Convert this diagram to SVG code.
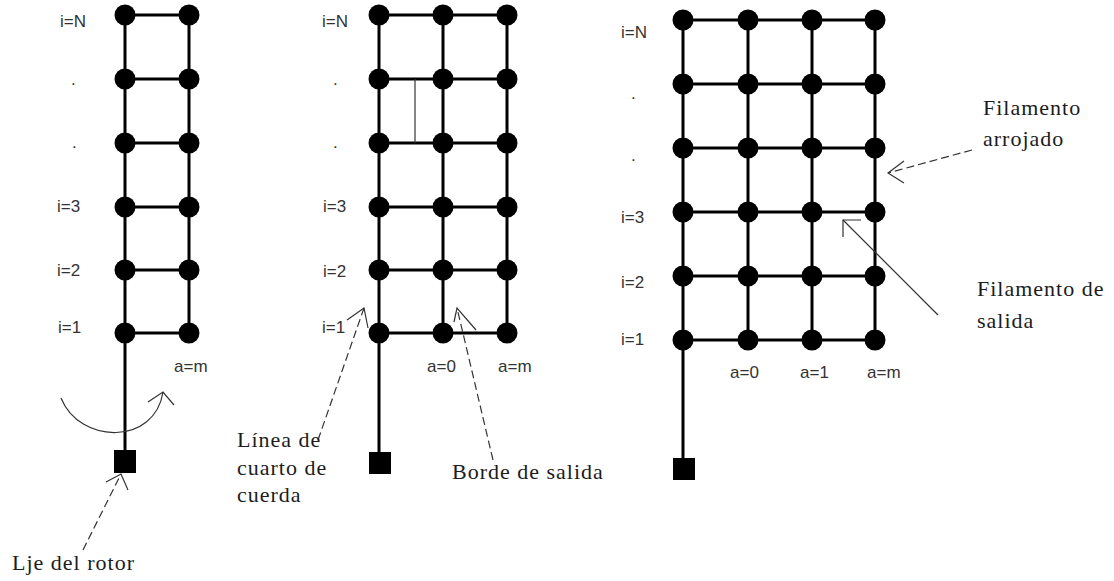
<svg xmlns="http://www.w3.org/2000/svg" xmlns:xlink="http://www.w3.org/1999/xlink" width="1114" height="581" viewBox="0 0 1114 581">
  <style>
    .bar { stroke: #000; stroke-width: 3; fill: none; stroke-linecap: butt; }
    .thin { stroke: #333; stroke-width: 1.2; fill: none; }
    .lead { stroke: #333; stroke-width: 1.2; fill: none; stroke-dasharray: 8 4; }
    .head { stroke: #333; stroke-width: 1.2; fill: none; }
    .dot { fill: #000; }
    .hub { fill: #000; }
    .idx { font-family: "Liberation Sans", Arial, sans-serif; font-size: 17px; fill: #333; }
    .note { font-family: "Liberation Serif", "Times New Roman", serif; font-size: 22px; fill: #1c1c1c; letter-spacing: 1px; }
  </style>
  <defs>
    <circle id="n" r="10.5" class="dot"/>
  </defs>
  <rect width="1114" height="581" fill="#fff"/>

  <!-- lattice bars and leader lines -->
  <g id="connectors">
    <!-- rotor blade ladder (left) -->
    <path class="bar" d="M125,15V452 M189,15V333 M125,15H189 M125,79H189 M125,143H189 M125,207H189 M125,270H189 M125,333H189"/>
    <!-- rotation sense -->
    <path class="thin" d="M61,398 C80,445 155,445 163,392"/>
    <path class="head" d="M148,402 L163,392 L174,405"/>
    <!-- pointer to rotor axis -->
    <path class="lead" d="M83,550 L121,474"/>
    <path class="head" d="M106,482 L121,474 L128,490"/>

    <!-- blade with quarter-chord and trailing edge (middle) -->
    <path class="bar" d="M379,15V452 M443,15V333 M507,15V333 M379,15H507 M379,79H507 M379,143H507 M379,207H507 M379,270H507 M379,333H507"/>
    <path class="thin" d="M415,79V143"/>
    <path class="lead" d="M318,440 L364,308"/>
    <path class="head" d="M347,320 L364,308 L368,328"/>
    <path class="lead" d="M493,460 L457,308"/>
    <path class="head" d="M454,322 L457,308 L476,330"/>

    <!-- wake lattice (right) -->
    <path class="bar" d="M683,20V458 M748,20V340 M812,20V340 M875,20V340 M683,20H875 M683,84H875 M683,148H875 M683,212H875 M683,276H875 M683,340H875"/>
    <path class="lead" d="M972,150 L888,173"/>
    <path class="head" d="M904,161 L888,173 L904,183"/>
    <path class="thin" d="M938,315 L843,220"/>
    <path class="head" d="M861,220 L843,220 L843,237"/>
  </g>

  <!-- left ladder nodes -->
  <g id="L-hub"><rect class="hub" x="114" y="450" width="22" height="23"/></g>
  <g id="L-1-0"><use xlink:href="#n" x="125" y="333"/></g>
  <g id="L-1-m"><use xlink:href="#n" x="189" y="333"/></g>
  <g id="L-2-0"><use xlink:href="#n" x="125" y="270"/></g>
  <g id="L-2-m"><use xlink:href="#n" x="189" y="270"/></g>
  <g id="L-3-0"><use xlink:href="#n" x="125" y="207"/></g>
  <g id="L-3-m"><use xlink:href="#n" x="189" y="207"/></g>
  <g id="L-4-0"><use xlink:href="#n" x="125" y="143"/></g>
  <g id="L-4-m"><use xlink:href="#n" x="189" y="143"/></g>
  <g id="L-5-0"><use xlink:href="#n" x="125" y="79"/></g>
  <g id="L-5-m"><use xlink:href="#n" x="189" y="79"/></g>
  <g id="L-N-0"><use xlink:href="#n" x="125" y="15"/></g>
  <g id="L-N-m"><use xlink:href="#n" x="189" y="15"/></g>

  <!-- middle blade nodes -->
  <g id="M-hub"><rect class="hub" x="369" y="452" width="22" height="22"/></g>
  <g id="M-1-q"><use xlink:href="#n" x="379" y="333"/></g>
  <g id="M-1-0"><use xlink:href="#n" x="443" y="333"/></g>
  <g id="M-1-m"><use xlink:href="#n" x="507" y="333"/></g>
  <g id="M-2-q"><use xlink:href="#n" x="379" y="270"/></g>
  <g id="M-2-0"><use xlink:href="#n" x="443" y="270"/></g>
  <g id="M-2-m"><use xlink:href="#n" x="507" y="270"/></g>
  <g id="M-3-q"><use xlink:href="#n" x="379" y="207"/></g>
  <g id="M-3-0"><use xlink:href="#n" x="443" y="207"/></g>
  <g id="M-3-m"><use xlink:href="#n" x="507" y="207"/></g>
  <g id="M-4-q"><use xlink:href="#n" x="379" y="143"/></g>
  <g id="M-4-0"><use xlink:href="#n" x="443" y="143"/></g>
  <g id="M-4-m"><use xlink:href="#n" x="507" y="143"/></g>
  <g id="M-5-q"><use xlink:href="#n" x="379" y="79"/></g>
  <g id="M-5-0"><use xlink:href="#n" x="443" y="79"/></g>
  <g id="M-5-m"><use xlink:href="#n" x="507" y="79"/></g>
  <g id="M-N-q"><use xlink:href="#n" x="379" y="15"/></g>
  <g id="M-N-0"><use xlink:href="#n" x="443" y="15"/></g>
  <g id="M-N-m"><use xlink:href="#n" x="507" y="15"/></g>

  <!-- right wake nodes -->
  <g id="R-hub"><rect class="hub" x="673" y="458" width="22" height="22"/></g>
  <g id="R-1-q"><use xlink:href="#n" x="683" y="340"/></g>
  <g id="R-1-0"><use xlink:href="#n" x="748" y="340"/></g>
  <g id="R-1-1"><use xlink:href="#n" x="812" y="340"/></g>
  <g id="R-1-m"><use xlink:href="#n" x="875" y="340"/></g>
  <g id="R-2-q"><use xlink:href="#n" x="683" y="276"/></g>
  <g id="R-2-0"><use xlink:href="#n" x="748" y="276"/></g>
  <g id="R-2-1"><use xlink:href="#n" x="812" y="276"/></g>
  <g id="R-2-m"><use xlink:href="#n" x="875" y="276"/></g>
  <g id="R-3-q"><use xlink:href="#n" x="683" y="212"/></g>
  <g id="R-3-0"><use xlink:href="#n" x="748" y="212"/></g>
  <g id="R-3-1"><use xlink:href="#n" x="812" y="212"/></g>
  <g id="R-3-m"><use xlink:href="#n" x="875" y="212"/></g>
  <g id="R-4-q"><use xlink:href="#n" x="683" y="148"/></g>
  <g id="R-4-0"><use xlink:href="#n" x="748" y="148"/></g>
  <g id="R-4-1"><use xlink:href="#n" x="812" y="148"/></g>
  <g id="R-4-m"><use xlink:href="#n" x="875" y="148"/></g>
  <g id="R-5-q"><use xlink:href="#n" x="683" y="84"/></g>
  <g id="R-5-0"><use xlink:href="#n" x="748" y="84"/></g>
  <g id="R-5-1"><use xlink:href="#n" x="812" y="84"/></g>
  <g id="R-5-m"><use xlink:href="#n" x="875" y="84"/></g>
  <g id="R-N-q"><use xlink:href="#n" x="683" y="20"/></g>
  <g id="R-N-0"><use xlink:href="#n" x="748" y="20"/></g>
  <g id="R-N-1"><use xlink:href="#n" x="812" y="20"/></g>
  <g id="R-N-m"><use xlink:href="#n" x="875" y="20"/></g>

  <!-- span and chord indices -->
  <g id="indices" class="idx">
    <text x="60" y="27">i=N</text>
    <text x="71" y="85">.</text>
    <text x="72" y="148">.</text>
    <text x="57" y="212">i=3</text>
    <text x="57" y="276">i=2</text>
    <text x="58" y="333">i=1</text>
    <text x="174" y="372">a=m</text>

    <text x="322" y="27">i=N</text>
    <text x="333" y="85">.</text>
    <text x="333" y="148">.</text>
    <text x="323" y="212">i=3</text>
    <text x="323" y="277">i=2</text>
    <text x="322" y="333">i=1</text>
    <text x="427" y="372">a=0</text>
    <text x="498" y="372">a=m</text>

    <text x="621" y="38">i=N</text>
    <text x="631" y="99">.</text>
    <text x="631" y="161">.</text>
    <text x="621" y="223">i=3</text>
    <text x="621" y="288">i=2</text>
    <text x="621" y="345">i=1</text>
    <text x="730" y="378">a=0</text>
    <text x="800" y="378">a=1</text>
    <text x="867" y="378">a=m</text>
  </g>

  <!-- annotations -->
  <g id="notes" class="note">
    <text x="12" y="570">Lje del rotor</text>
    <text x="237" y="447">Línea de</text>
    <text x="237" y="475">cuarto de</text>
    <text x="237" y="502">cuerda</text>
    <text x="452" y="479">Borde de salida</text>
    <text x="983" y="115">Filamento</text>
    <text x="983" y="146">arrojado</text>
    <text x="977" y="296">Filamento de</text>
    <text x="977" y="328">salida</text>
  </g>
</svg>
